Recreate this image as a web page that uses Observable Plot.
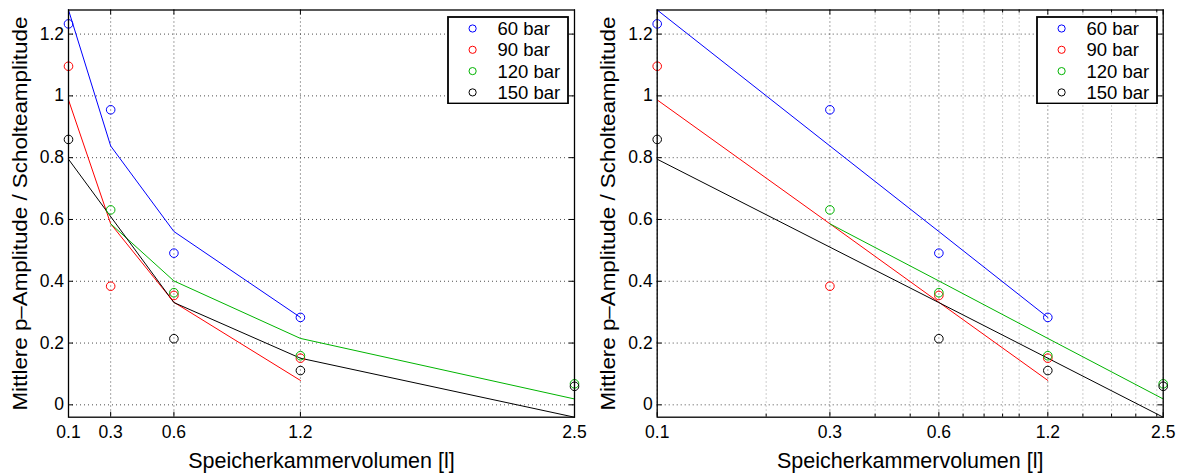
<!DOCTYPE html>
<html>
<head>
<meta charset="utf-8">
<script src="https://cdn.jsdelivr.net/npm/d3@7"></script>
<script src="https://cdn.jsdelivr.net/npm/@observablehq/plot@0.6"></script>
<style>
  html, body { margin: 0; padding: 0; background: #fff; }
  #wrap { position: relative; width: 1181px; height: 476px; display: flex; font-family: "Liberation Sans", Arial, Helvetica, sans-serif; }
  #wrap svg { display: block; }
  .legend { position: absolute; }
</style>
</head>
<body>
<div id="wrap"></div>
<script>
// ---- data ----
const seriesNames = ["60 bar", "90 bar", "120 bar", "150 bar"];
const seriesColors = ["#0000ff", "#ff0000", "#00b400", "#000000"];

const vol60 = [0.1, 0.3, 0.6, 1.2];
const meas60 = [1.233, 0.955, 0.491, 0.283];
const fit60 = [1.278, 0.838, 0.561, 0.283];

const vol90 = [0.1, 0.3, 0.6, 1.2];
const meas90 = [1.096, 0.384, 0.354, 0.151];
const fit90 = [0.987, 0.586, 0.332, 0.079];

const vol120 = [0.3, 0.6, 1.2, 2.5];
const meas120 = [0.631, 0.363, 0.159, 0.068];
const fit120 = [0.586, 0.401, 0.215, 0.019];

const vol150 = [0.1, 0.6, 1.2, 2.5];
const meas150 = [0.859, 0.214, 0.111, 0.060];
const fit150 = [0.795, 0.331, 0.151, -0.040];

const xTicks = [0.1, 0.3, 0.6, 1.2, 2.5];
const xTickLabels = ["0.1", "0.3", "0.6", "1.2", "2.5"];
const xMinorLog = [0.2, 0.4, 0.5, 0.7, 0.8, 0.9, 1.0, 1.5, 1.8, 2.1, 2.4];
const yTicks = [0, 0.2, 0.4, 0.6, 0.8, 1, 1.2];
const yTickLabels = ["0", "0.2", "0.4", "0.6", "0.8", "1", "1.2"];

const xLabel = "Speicherkammervolumen [l]";
const yLabel = "Mittlere p\u2013Amplitude / Scholteamplitude";

// ---- tables built from the arrays ----
const vols = [vol60, vol90, vol120, vol150];
const meas = [meas60, meas90, meas120, meas150];
const fits = [fit60, fit90, fit120, fit150];
const rows = [];
seriesNames.forEach((s, i) => vols[i].forEach((v, j) => rows.push({series: s, vol: v, meas: meas[i][j], fit: fits[i][j]})));
const yDomain = d3.extent(rows.flatMap(r => [r.meas, r.fit]));
const xTickRows = xTicks.map((v, i) => ({v, label: xTickLabels[i]}));
const yTickRows = yTicks.map((v, i) => ({v, label: yTickLabels[i]}));

const FONT = '"Liberation Sans", Arial, Helvetica, sans-serif';
const H = 476, MT = 9.5, MB = 59.3;

function panel(xType, W, ML, MR, minor) {
  const fh = H - MT - MB;
  const fw = W - ML - MR;
  const grid = {stroke: "#000", strokeOpacity: 0.7, strokeWidth: 1, strokeDasharray: "1,3"};
  const marks = [];
  if (minor) marks.push(Plot.ruleX(minor, {x: d => d, stroke: "#000", strokeOpacity: 0.4, strokeWidth: 1, strokeDasharray: "1,3"}));
  marks.push(Plot.ruleX(xTickRows, {x: "v", ...grid}));
  marks.push(Plot.ruleY(yTickRows, {y: "v", ...grid}));
  marks.push(Plot.line(rows, {x: "vol", y: "fit", z: "series", stroke: "series", strokeWidth: 1}));
  marks.push(Plot.dot(rows, {x: "vol", y: "meas", stroke: "series", r: 4.3, strokeWidth: 1, fill: "none"}));
  // inward ticks on all four sides
  marks.push(Plot.tickX(xTickRows, {x: "v", stroke: "#000", insetTop: fh - 5}));
  marks.push(Plot.tickX(xTickRows, {x: "v", stroke: "#000", insetBottom: fh - 5}));
  marks.push(Plot.tickY(yTickRows, {y: "v", stroke: "#000", insetRight: fw - 5}));
  marks.push(Plot.tickY(yTickRows, {y: "v", stroke: "#000", insetLeft: fw - 5}));
  if (minor) {
    marks.push(Plot.tickX(minor, {x: d => d, stroke: "#000", insetTop: fh - 3}));
    marks.push(Plot.tickX(minor, {x: d => d, stroke: "#000", insetBottom: fh - 3}));
  }
  marks.push(Plot.frame({stroke: "#000", strokeWidth: 1.3}));
  // tick labels
  marks.push(Plot.text(xTickRows, {x: "v", text: "label", frameAnchor: "bottom", dy: 15, fontSize: 17.5, textAnchor: "middle", lineAnchor: "middle", fill: "#000"}));
  marks.push(Plot.text(yTickRows, {y: "v", text: "label", frameAnchor: "left", dx: -4.5, fontSize: 17.5, textAnchor: "end", lineAnchor: "middle", fill: "#000"}));
  // axis titles
  marks.push(Plot.text([xLabel], {text: d => d, frameAnchor: "bottom", dy: 44, fontSize: 21.5, textAnchor: "middle", lineAnchor: "middle", fill: "#000"}));
  marks.push(Plot.text([yLabel], {text: d => d, frameAnchor: "left", rotate: -90, dx: -48.5, fontSize: 21, textAnchor: "middle", lineAnchor: "middle", fill: "#000", className: "ylab"}));

  const svg = Plot.plot({
    width: W, height: H,
    marginLeft: ML, marginRight: MR, marginTop: MT, marginBottom: MB,
    style: {fontFamily: FONT, fontSize: "17px", color: "#000", background: "#fff", overflow: "visible"},
    x: {type: xType, domain: [0.1, 2.5], axis: null},
    y: {domain: yDomain, axis: null},
    color: {domain: seriesNames, range: seriesColors},
    marks
  });
  d3.select(svg).selectAll(".ylab text").attr("textLength", 394).attr("lengthAdjust", "spacingAndGlyphs");
  return svg;
}

function legend(left, top) {
  const w = 122, h = 88.5;
  const div = document.createElement("div");
  div.className = "legend";
  div.style.left = left + "px";
  div.style.top = top + "px";
  const s = d3.select(div).append("svg").attr("width", w).attr("height", h);
  s.append("rect").attr("x", 1).attr("y", 1).attr("width", w - 2).attr("height", h - 2)
    .attr("fill", "#fff").attr("stroke", "#000").attr("stroke-width", 1.8);
  seriesNames.forEach((name, i) => {
    const cy = 12.5 + i * 21.3;
    s.append("circle").attr("cx", 25.6).attr("cy", cy).attr("r", 3.6)
      .attr("fill", "none").attr("stroke", seriesColors[i]).attr("stroke-width", 1);
    s.append("text").attr("x", 50.5).attr("y", cy).attr("dy", "0.36em")
      .attr("font-family", FONT).attr("font-size", 18.5).attr("fill", "#000").text(name);
  });
  return div;
}

const wrap = document.getElementById("wrap");
wrap.appendChild(panel("linear", 590, 68, 16, null));
wrap.appendChild(panel("log", 591, 66.7, 18.3, xMinorLog));
wrap.appendChild(legend(446.7, 15.7));
wrap.appendChild(legend(1036, 15.7));
</script>
</body>
</html>
